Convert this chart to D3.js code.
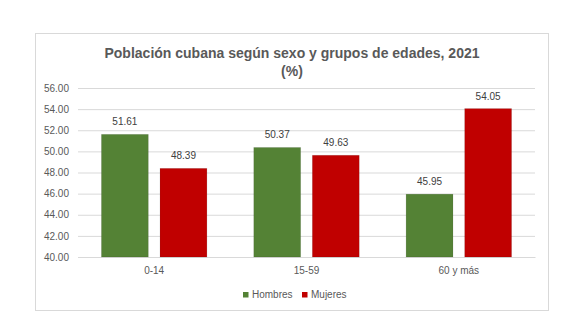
<!DOCTYPE html>
<html>
<head>
<meta charset="utf-8">
<script src="https://cdn.jsdelivr.net/npm/d3@7"></script>
<style>
  html, body { margin: 0; padding: 0; background: #fff; }
  svg { display: block; font-family: "Liberation Sans", Arial, sans-serif; }
</style>
</head>
<body>
<svg id="chart" width="580" height="335"></svg>
<script>
// Población cubana por sexo y grupos de edades, 2021 (%)
const categories = ["0-14", "15-59", "60 y más"];
const seriesNames = ["Hombres", "Mujeres"];
const hombres = [51.61, 50.37, 45.95];
const mujeres = [48.39, 49.63, 54.05];
const yTicks = [40, 42, 44, 46, 48, 50, 52, 54, 56];
const seriesColors = ["#548235", "#C00000"];

const svg = d3.select("#chart");

// chart area frame
svg.append("rect")
  .attr("x", 35.5).attr("y", 33.5)
  .attr("width", 513).attr("height", 277)
  .attr("fill", "#fff").attr("stroke", "#d9d9d9").attr("stroke-width", 1);

// title
const title = svg.append("text")
  .attr("text-anchor", "middle")
  .attr("fill", "#595959")
  .style("font-size", "14px")
  .style("font-weight", "bold");
title.append("tspan").attr("x", 292).attr("y", 58)
  .text("Población cubana según sexo y grupos de edades, 2021");
title.append("tspan").attr("x", 292).attr("y", 76).text("(%)");

const plot = { left: 78, right: 535, top: 88, bottom: 257 };

const y = d3.scaleLinear().domain([40, 56]).range([plot.bottom, plot.top]);
const x0 = d3.scaleBand().domain(categories).range([plot.left, plot.right]).padding(0);
const x1 = d3.scaleBand().domain(seriesNames)
  .range([0, x0.bandwidth()]).paddingInner(0.2).paddingOuter(0.4);

// gridlines and y labels
const yAxis = d3.axisLeft(y).tickValues(yTicks)
  .tickFormat(d3.format(".2f"))
  .tickSize(-(plot.right - plot.left)).tickPadding(9);
const gy = svg.append("g").attr("transform", `translate(${plot.left},0)`).call(yAxis);
gy.select(".domain").remove();
gy.selectAll(".tick line").attr("stroke", "#d9d9d9");
gy.selectAll(".tick text").attr("fill", "#595959").style("font-size", "10px");

// x axis line and labels
const xAxis = d3.axisBottom(x0).tickSize(0).tickPadding(10);
const gx = svg.append("g").attr("transform", `translate(0,${plot.bottom})`).call(xAxis);
gx.select(".domain").attr("stroke", "#d9d9d9");
gx.selectAll(".tick text").attr("fill", "#595959").style("font-size", "10px");

// bars
const rows = categories.map((c, i) => ({ cat: c, vals: [hombres[i], mujeres[i]] }));
const groups = svg.append("g").selectAll("g").data(rows).join("g")
  .attr("transform", d => `translate(${x0(d.cat)},0)`);

groups.selectAll("rect.bar")
  .data(d => d.vals.map((v, k) => ({ name: seriesNames[k], value: v, k })))
  .join("rect")
  .attr("class", "bar")
  .attr("x", d => x1(d.name))
  .attr("y", d => y(d.value))
  .attr("width", x1.bandwidth())
  .attr("height", d => plot.bottom - y(d.value))
  .attr("fill", d => seriesColors[d.k])
  .attr("stroke", "rgba(0,0,0,0.12)")
  .attr("stroke-width", 0.8);

groups.selectAll("text.val")
  .data(d => d.vals.map((v, k) => ({ name: seriesNames[k], value: v, k })))
  .join("text")
  .attr("class", "val")
  .attr("x", d => x1(d.name) + x1.bandwidth() / 2)
  .attr("y", d => y(d.value) - 9)
  .attr("text-anchor", "middle")
  .attr("fill", "#404040")
  .style("font-size", "10px")
  .text(d => d3.format(".2f")(d.value));

// legend
const legendX = [243, 302];
const legend = svg.append("g").selectAll("g").data(seriesNames).join("g")
  .attr("transform", (d, i) => `translate(${legendX[i]},292)`);
legend.append("rect").attr("width", 5.5).attr("height", 5.5)
  .attr("fill", (d, i) => seriesColors[i]);
legend.append("text").attr("x", 9).attr("y", 6)
  .attr("fill", "#595959").style("font-size", "10px").text(d => d);
</script>
</body>
</html>
